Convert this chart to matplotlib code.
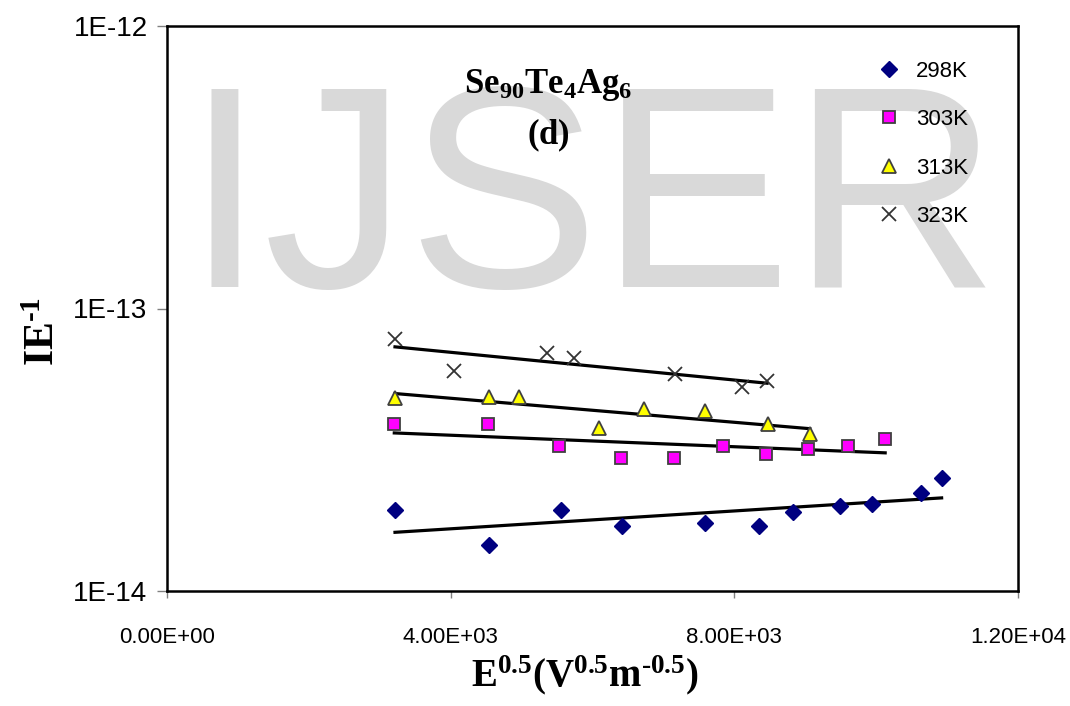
import numpy as np
import matplotlib
matplotlib.use("Agg")
import matplotlib.pyplot as plt
from matplotlib.ticker import FixedLocator, FuncFormatter, NullLocator

plt.rcParams['font.family'] = ['Liberation Sans', 'DejaVu Sans']
plt.rcParams['mathtext.fontset'] = 'custom'
plt.rcParams['mathtext.rm'] = 'Liberation Serif:bold'
plt.rcParams['mathtext.it'] = 'Liberation Serif:bold'
plt.rcParams['mathtext.bf'] = 'Liberation Serif:bold'

# ---- data ----
labels = ["298K", "303K", "313K", "323K"]

x_298 = [3215, 4545, 5551, 6411, 7590, 8343, 8831, 9494, 9936, 10627, 10923]
y_298 = [1.94e-14, 1.46e-14, 1.94e-14, 1.70e-14, 1.74e-14, 1.70e-14,
         1.91e-14, 2.00e-14, 2.03e-14, 2.22e-14, 2.51e-14]

x_303 = [3205, 4530, 5531, 6397, 7153, 7844, 8446, 9043, 9607, 10127]
y_303 = [3.91e-14, 3.91e-14, 3.26e-14, 2.95e-14, 2.95e-14, 3.26e-14,
         3.06e-14, 3.18e-14, 3.26e-14, 3.45e-14]

x_313 = [3215, 4545, 4960, 6085, 6730, 7590, 8470, 9063]
y_313 = [4.83e-14, 4.87e-14, 4.85e-14, 3.77e-14, 4.42e-14, 4.34e-14,
         3.89e-14, 3.59e-14]

x_323 = [3215, 4050, 5356, 5746, 7168, 8109, 8462]
y_323 = [7.78e-14, 6.02e-14, 6.94e-14, 6.66e-14, 5.85e-14, 5.29e-14, 5.53e-14]

x_ticks = [0, 4000, 8000, 12000]
y_ticks = [1e-14, 1e-13, 1e-12]

series = [
    (x_298, y_298, dict(marker='D', color='#000080', markersize=8.5,
                        markeredgecolor='#000080', linestyle='none')),
    (x_303, y_303, dict(marker='s', color='#FF00FF', markersize=8,
                        markeredgecolor='#404040', markeredgewidth=1.3, linestyle='none')),
    (x_313, y_313, dict(marker='^', color='#FFFF00', markersize=10,
                        markeredgecolor='#404040', markeredgewidth=1.3, linestyle='none')),
    (x_323, y_323, dict(marker='x', color='#333333', markersize=10,
                        markeredgewidth=1.3, linestyle='none')),
]

fig = plt.figure(figsize=(10.70, 7.06), dpi=100)
ax = fig.add_axes([167/1070, 1-591/706, (1018-167)/1070, (591-26)/706])
ax.set_facecolor('none')

# watermark (behind the data)
ax.text(0.553, 1-287/706, "IJSER", fontsize=207, color='#d9d9d9',
        ha='center', va='baseline', family='Liberation Sans', zorder=0,
        transform=fig.transFigure, clip_on=False)

for (xs, ys, st), lab in zip(series, labels):
    xs = np.asarray(xs, float)
    ys = np.asarray(ys, float)
    ax.plot(xs, ys, label=lab, zorder=3, **st)
    # exponential trend line (fit of log y vs x)
    k, b = np.polyfit(xs, np.log10(ys), 1)
    xx = np.linspace(xs.min(), xs.max(), 50)
    ax.plot(xx, 10**(k*xx + b), color='black', lw=2.3, zorder=2)

ax.set_yscale('log')
ax.set_xlim(0, 12000)
ax.set_ylim(1e-14, 1e-12)
ax.xaxis.set_major_locator(FixedLocator(x_ticks))
ax.xaxis.set_major_formatter(FuncFormatter(lambda v, p: f"{v:.2E}"))
ax.yaxis.set_major_locator(FixedLocator(y_ticks))
ax.yaxis.set_minor_locator(NullLocator())
ax.yaxis.set_major_formatter(FuncFormatter(lambda v, p: f"1E{int(round(np.log10(v)))}"))

ax.tick_params(axis='x', direction='out', length=5, width=1, color='#808080',
               labelsize=16, pad=21)
ax.tick_params(axis='y', direction='out', length=7, width=1, color='#808080',
               labelsize=20, pad=7)
for s in ax.spines.values():
    s.set_linewidth(1.8)
    s.set_color('black')

ax.set_xlabel(r'$\mathrm{E^{0.5}(V^{0.5}m^{\text{-}0.5})}$', fontsize=28, va='center')
ax.xaxis.set_label_coords(0.491, -0.149)
ax.set_ylabel(r'$\mathrm{IE^{\text{-}1}}$', fontsize=30, va='center')
ax.yaxis.set_label_coords(-0.146, 0.46)

ax.text((548-167)/851, (591-85)/565, r'$\mathrm{Se_{90}Te_{4}Ag_{6}}$',
        transform=ax.transAxes, fontsize=25, ha='center', va='center', zorder=5)
ax.text((548-167)/851, (591-135)/565, r'$\mathrm{(d)}$',
        transform=ax.transAxes, fontsize=25, ha='center', va='center', zorder=5)

leg = ax.legend(loc='upper left', bbox_to_anchor=((867-167)/851, (591-52)/565),
                frameon=False, fontsize=16, handlelength=1.2, handletextpad=0.6,
                labelspacing=1.23, numpoints=1, borderaxespad=0)
leg.set_zorder(5)

fig.savefig("out.png", dpi=100)
